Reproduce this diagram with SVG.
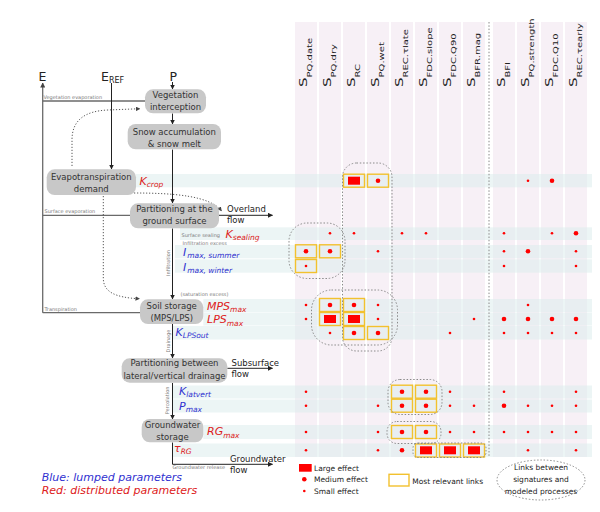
<svg xmlns="http://www.w3.org/2000/svg" width="600" height="512" viewBox="0 0 600 512">
<defs>
<marker id="ah" viewBox="0 0 10 10" refX="9" refY="5" markerWidth="5" markerHeight="5" orient="auto" markerUnits="userSpaceOnUse"><path d="M0,0 L10,5 L0,10 z" fill="#222"/></marker>
<marker id="ahd" viewBox="0 0 10 10" refX="9" refY="5" markerWidth="4.5" markerHeight="4.5" orient="auto" markerUnits="userSpaceOnUse"><path d="M0,0 L10,5 L0,10 z" fill="#444"/></marker>
<marker id="ahg" viewBox="0 0 10 10" refX="9" refY="5" markerWidth="5" markerHeight="5" orient="auto" markerUnits="userSpaceOnUse"><path d="M0,0 L10,5 L0,10 z" fill="#444"/></marker>
</defs>
<style>
text{font-family:"DejaVu Sans","Liberation Sans",sans-serif;}
.col{fill:#f7f0f6;}
.row{fill:#dcecec;fill-opacity:0.55;}
.hdr{font-size:15px;fill:#222;}
.hs{font-size:10px;}
.box{fill:#c8c8c8;stroke:none;}
.bt{font-size:8.5px;fill:#333;text-anchor:middle;}
.lbl{font-size:8.5px;fill:#222;}
.big{font-size:12.5px;fill:#222;}
.gl{font-size:5px;fill:#7a7a7a;}
.pb{font-size:11px;fill:#3030d0;font-style:italic;}
.pr{font-size:11px;fill:#dd2020;font-style:italic;}
.ps{font-size:7.5px;}
.flow{stroke:#222;stroke-width:1;fill:none;}
.evap{stroke:#6a6a6a;stroke-width:1.3;fill:none;}
.dot{stroke:#444;stroke-width:0.9;stroke-dasharray:1.2,1.8;fill:none;}
.grp{stroke:#8a8a8a;stroke-width:1;stroke-dasharray:1.5,1.8;fill:none;}
.yb{fill:none;stroke:#f2c12e;stroke-width:1.4;}
.L{fill:#ff0000;}
.M{fill:#ff0000;}
.S{fill:#ff0000;}
.leg{font-size:7.5px;fill:#222;}
</style>

<g id="columns">
<rect class="col" x="295" y="22" width="22" height="435"/>
<rect class="col" x="319" y="22" width="22" height="435"/>
<rect class="col" x="343" y="22" width="22" height="435"/>
<rect class="col" x="367" y="22" width="22" height="435"/>
<rect class="col" x="391" y="22" width="22" height="435"/>
<rect class="col" x="415" y="22" width="22" height="435"/>
<rect class="col" x="439" y="22" width="22" height="435"/>
<rect class="col" x="463" y="22" width="22" height="435"/>
<rect class="col" x="493" y="22" width="22" height="435"/>
<rect class="col" x="517" y="22" width="22" height="435"/>
<rect class="col" x="541" y="22" width="22" height="435"/>
<rect class="col" x="565" y="22" width="22" height="435"/>
</g>

<g id="rows">
<rect class="row" x="136" y="174" width="456" height="13.3"/>
<rect class="row" x="180" y="227.3" width="412" height="12.7"/>
<rect class="row" x="175" y="245" width="417" height="13.3"/>
<rect class="row" x="175" y="259.3" width="417" height="13.4"/>
<rect class="row" x="203.3" y="299" width="388.7" height="13"/>
<rect class="row" x="203.3" y="312.5" width="388.7" height="13"/>
<rect class="row" x="172.7" y="326" width="419.3" height="13.5"/>
<rect class="row" x="172.7" y="385.5" width="419.3" height="13"/>
<rect class="row" x="172.7" y="399.5" width="419.3" height="13"/>
<rect class="row" x="203.3" y="425" width="388.7" height="14"/>
<rect class="row" x="172.7" y="443.5" width="419.3" height="13.5"/>
</g>

<g id="headers">
<text class="hdr" transform="translate(307,87) rotate(-90) scale(1,0.66)">S<tspan class="hs" dy="7.6">PQ.date</tspan></text>
<text class="hdr" transform="translate(331,87) rotate(-90) scale(1,0.66)">S<tspan class="hs" dy="7.6">PQ.dry</tspan></text>
<text class="hdr" transform="translate(355,87) rotate(-90) scale(1,0.66)">S<tspan class="hs" dy="7.6">RC</tspan></text>
<text class="hdr" transform="translate(379,87) rotate(-90) scale(1,0.66)">S<tspan class="hs" dy="7.6">PQ.wet</tspan></text>
<text class="hdr" transform="translate(403,87) rotate(-90) scale(1,0.66)">S<tspan class="hs" dy="7.6">REC.τlate</tspan></text>
<text class="hdr" transform="translate(427,87) rotate(-90) scale(1,0.66)">S<tspan class="hs" dy="7.6">FDC.slope</tspan></text>
<text class="hdr" transform="translate(451,87) rotate(-90) scale(1,0.66)">S<tspan class="hs" dy="7.6">FDC.Q90</tspan></text>
<text class="hdr" transform="translate(475,87) rotate(-90) scale(1,0.66)">S<tspan class="hs" dy="7.6">BFR.mag</tspan></text>
<text class="hdr" transform="translate(505,87) rotate(-90) scale(1,0.66)">S<tspan class="hs" dy="7.6">BFI</tspan></text>
<text class="hdr" transform="translate(529,87) rotate(-90) scale(1,0.66)">S<tspan class="hs" dy="7.6">PQ.strength</tspan></text>
<text class="hdr" transform="translate(553,87) rotate(-90) scale(1,0.66)">S<tspan class="hs" dy="7.6">FDC.Q10</tspan></text>
<text class="hdr" transform="translate(577,87) rotate(-90) scale(1,0.66)">S<tspan class="hs" dy="7.6">REC.τearly</tspan></text>
</g>

<line x1="489" y1="22" x2="489" y2="457" stroke="#8a8a8a" stroke-width="1" stroke-dasharray="1.5,1.8"/>

<g id="relevant-links">
<rect class="yb" x="343.5" y="174.2" width="21" height="13"/>
<rect class="yb" x="367.5" y="174.2" width="21" height="13"/>
<rect class="yb" x="295.5" y="244.8" width="21" height="13"/>
<rect class="yb" x="319.5" y="244.8" width="21" height="13"/>
<rect class="yb" x="295.5" y="259.5" width="21" height="13"/>
<rect class="yb" x="319.5" y="298.5" width="21" height="13"/>
<rect class="yb" x="343.5" y="298.5" width="21" height="13"/>
<rect class="yb" x="319.5" y="312.5" width="21" height="13"/>
<rect class="yb" x="343.5" y="312.5" width="21" height="13"/>
<rect class="yb" x="343.5" y="326.5" width="21" height="13"/>
<rect class="yb" x="367.5" y="326.5" width="21" height="13"/>
<rect class="yb" x="391.5" y="385.2" width="21" height="13"/>
<rect class="yb" x="415.5" y="385.2" width="21" height="13"/>
<rect class="yb" x="391.5" y="399.2" width="21" height="13"/>
<rect class="yb" x="415.5" y="399.2" width="21" height="13"/>
<rect class="yb" x="391.5" y="425.5" width="21" height="13"/>
<rect class="yb" x="415.5" y="425.5" width="21" height="13"/>
<rect class="yb" x="415.5" y="444" width="21" height="13"/>
<rect class="yb" x="439.5" y="444" width="21" height="13"/>
<rect class="yb" x="463.5" y="444" width="21" height="13"/>
</g>

<g id="effects">
<rect class="L" x="348" y="176.7" width="12" height="8"/>
<circle class="M" cx="378" cy="180.7" r="2.3"/>
<circle class="S" cx="528" cy="180.7" r="1.3"/>
<circle class="M" cx="552" cy="180.7" r="2.3"/>
<circle class="S" cx="330" cy="233.3" r="1.3"/>
<circle class="S" cx="354" cy="233.3" r="1.3"/>
<circle class="S" cx="402" cy="233.3" r="1.3"/>
<circle class="S" cx="426" cy="233.3" r="1.3"/>
<circle class="S" cx="504" cy="233.3" r="1.3"/>
<circle class="S" cx="552" cy="233.3" r="1.3"/>
<circle class="M" cx="576" cy="233.3" r="2.3"/>
<circle class="M" cx="306" cy="251.3" r="2.3"/>
<circle class="M" cx="330" cy="251.3" r="2.3"/>
<circle class="S" cx="378" cy="251.3" r="1.3"/>
<circle class="S" cx="504" cy="251.3" r="1.3"/>
<circle class="M" cx="528" cy="251.3" r="2.3"/>
<circle class="S" cx="576" cy="251.3" r="1.3"/>
<circle class="S" cx="306" cy="266" r="1.3"/>
<circle class="S" cx="504" cy="266" r="1.3"/>
<circle class="S" cx="576" cy="266" r="1.3"/>
<circle class="S" cx="306" cy="305" r="1.3"/>
<circle class="M" cx="330" cy="305" r="2.3"/>
<circle class="M" cx="354" cy="305" r="2.3"/>
<circle class="S" cx="378" cy="305" r="1.3"/>
<circle class="S" cx="528" cy="305" r="1.3"/>
<circle class="S" cx="306" cy="319" r="1.3"/>
<rect class="L" x="324" y="315" width="12" height="8"/>
<rect class="L" x="348" y="315" width="12" height="8"/>
<circle class="S" cx="378" cy="319" r="1.3"/>
<circle class="S" cx="474" cy="319" r="1.3"/>
<circle class="M" cx="504" cy="319" r="2.3"/>
<circle class="M" cx="528" cy="319" r="2.3"/>
<circle class="M" cx="552" cy="319" r="2.3"/>
<circle class="M" cx="576" cy="319" r="2.3"/>
<circle class="S" cx="330" cy="333" r="1.3"/>
<circle class="M" cx="354" cy="333" r="2.3"/>
<circle class="M" cx="378" cy="333" r="2.3"/>
<circle class="S" cx="450" cy="333" r="1.3"/>
<circle class="S" cx="504" cy="333" r="1.3"/>
<circle class="S" cx="528" cy="333" r="1.3"/>
<circle class="S" cx="552" cy="333" r="1.3"/>
<circle class="S" cx="576" cy="333" r="1.3"/>
<circle class="S" cx="306" cy="391.7" r="1.3"/>
<circle class="M" cx="402" cy="391.7" r="2.3"/>
<circle class="M" cx="426" cy="391.7" r="2.3"/>
<circle class="S" cx="450" cy="391.7" r="1.3"/>
<circle class="S" cx="504" cy="391.7" r="1.3"/>
<circle class="S" cx="576" cy="391.7" r="1.3"/>
<circle class="S" cx="306" cy="405.7" r="1.3"/>
<circle class="S" cx="378" cy="405.7" r="1.3"/>
<circle class="M" cx="402" cy="405.7" r="2.3"/>
<circle class="M" cx="426" cy="405.7" r="2.3"/>
<circle class="S" cx="450" cy="405.7" r="1.3"/>
<circle class="S" cx="474" cy="405.7" r="1.3"/>
<circle class="M" cx="504" cy="405.7" r="2.3"/>
<circle class="S" cx="528" cy="405.7" r="1.3"/>
<circle class="S" cx="552" cy="405.7" r="1.3"/>
<circle class="S" cx="576" cy="405.7" r="1.3"/>
<circle class="S" cx="306" cy="432" r="1.3"/>
<circle class="S" cx="378" cy="432" r="1.3"/>
<circle class="M" cx="402" cy="432" r="2.3"/>
<circle class="M" cx="426" cy="432" r="2.3"/>
<circle class="S" cx="450" cy="432" r="1.3"/>
<circle class="S" cx="474" cy="432" r="1.3"/>
<circle class="S" cx="504" cy="432" r="1.3"/>
<circle class="S" cx="528" cy="432" r="1.3"/>
<circle class="S" cx="552" cy="432" r="1.3"/>
<circle class="S" cx="576" cy="432" r="1.3"/>
<circle class="S" cx="306" cy="450.3" r="1.3"/>
<circle class="S" cx="378" cy="450.3" r="1.3"/>
<circle class="M" cx="402" cy="450.3" r="2.3"/>
<rect class="L" x="420" y="446.3" width="12" height="8"/>
<rect class="L" x="444" y="446.3" width="12" height="8"/>
<rect class="L" x="468" y="446.3" width="12" height="8"/>
<circle class="S" cx="528" cy="450.3" r="1.3"/>
<circle class="S" cx="576" cy="450.3" r="1.3"/>
</g>

<g id="link-groups">
<rect class="grp" x="342.5" y="163" width="49.5" height="188" rx="14"/>
<rect class="grp" x="289" y="223" width="56" height="55.5" rx="18"/>
<rect class="grp" x="311.5" y="290" width="86" height="55" rx="20"/>
<rect class="grp" x="388" y="379.5" width="54" height="35" rx="12"/>
<rect class="grp" x="387" y="421.5" width="54" height="22" rx="10"/>
<rect class="grp" x="413" y="443" width="73" height="14.5" rx="5"/>
</g>

<g id="connectors">
<line class="evap" x1="42.7" y1="312.7" x2="42.7" y2="83" marker-end="url(#ahg)"/>
<line class="evap" x1="145" y1="101" x2="42.7" y2="101"/>
<line class="evap" x1="130" y1="215.3" x2="42.7" y2="215.3"/>
<line class="evap" x1="140" y1="312.7" x2="42.7" y2="312.7"/>
<line class="flow" x1="172.5" y1="82" x2="172.5" y2="89" marker-end="url(#ah)"/>
<line class="flow" x1="111.5" y1="83" x2="111.5" y2="169" marker-end="url(#ah)"/>
<line class="flow" x1="172.5" y1="113.5" x2="172.5" y2="124" marker-end="url(#ah)"/>
<line class="flow" x1="172.5" y1="149.5" x2="172.5" y2="203" marker-end="url(#ah)"/>
<line class="flow" x1="172.5" y1="228.5" x2="172.5" y2="299" marker-end="url(#ah)"/>
<line class="flow" x1="172.5" y1="324" x2="172.5" y2="358" marker-end="url(#ah)"/>
<line class="flow" x1="172.5" y1="383" x2="172.5" y2="419" marker-end="url(#ah)"/>
<polyline class="flow" points="172.5,442.5 172.5,464.3 272.5,464.3" marker-end="url(#ah)"/>
<line class="flow" x1="219" y1="215.3" x2="272.5" y2="215.3" marker-end="url(#ah)"/>
<line class="flow" x1="227.3" y1="368.3" x2="272.5" y2="368.3" marker-end="url(#ah)"/>
<path class="dot" d="M72,166 L72,140 C72,120 85,111 108,110 L140,108.7" marker-end="url(#ahd)"/>
<path class="dot" d="M134,193 C175,193 210,196 221.5,211" marker-end="url(#ahd)"/>
<path class="dot" d="M103.3,196 L103.3,278 C103.3,292 115,297.5 139.5,298.8" marker-end="url(#ahd)"/>
</g>

<g id="labels-top">
<text class="big" x="38.5" y="80.5">E</text>
<text class="big" x="101" y="80.5">E<tspan font-size="8" dy="2.5">REF</tspan></text>
<text class="big" x="169.5" y="80.5">P</text>
</g>

<g id="node-vegetation">
<rect class="box" x="145" y="89.3" width="61" height="24" rx="8"/>
<text class="bt" x="175.5" y="97.8">Vegetation</text>
<text class="bt" x="175.5" y="109.5">interception</text>
</g>
<g id="node-snow">
<rect class="box" x="127.7" y="124" width="93.3" height="25.3" rx="8"/>
<text class="bt" x="174.3" y="134.8">Snow accumulation</text>
<text class="bt" x="174.3" y="146.8">&amp; snow melt</text>
</g>
<g id="node-evapotranspiration">
<rect class="box" x="46.7" y="169.3" width="89.3" height="25.7" rx="8"/>
<text class="bt" x="91.3" y="180">Evapotranspiration</text>
<text class="bt" x="91.3" y="192">demand</text>
</g>
<g id="node-partitioning-surface">
<rect class="box" x="130" y="203.3" width="89" height="25" rx="8"/>
<text class="bt" x="174.5" y="211.8">Partitioning at the</text>
<text class="bt" x="174.5" y="224">ground surface</text>
</g>
<g id="node-soil">
<rect class="box" x="140" y="299.3" width="63.3" height="24.7" rx="8"/>
<text class="bt" x="171.7" y="308.5">Soil storage</text>
<text class="bt" x="171.7" y="320.5">(MPS/LPS)</text>
</g>
<g id="node-partitioning-drainage">
<rect class="box" x="121.7" y="358.3" width="105.6" height="24.4" rx="8"/>
<text class="bt" x="174.5" y="366.3">Partitioning between</text>
<text class="bt" x="174.5" y="378.5">lateral/vertical drainage</text>
</g>
<g id="node-groundwater">
<rect class="box" x="141.7" y="419" width="61.6" height="23.3" rx="8"/>
<text class="bt" x="172.5" y="428">Groundwater</text>
<text class="bt" x="172.5" y="440">storage</text>
</g>

<g id="flow-labels">
<text class="lbl" x="227" y="211.5">Overland</text>
<text class="lbl" x="227" y="223">flow</text>
<text class="lbl" x="231.5" y="365.8">Subsurface</text>
<text class="lbl" x="231.5" y="377.3">flow</text>
<text class="lbl" x="230" y="461.5">Groundwater</text>
<text class="lbl" x="230" y="473.3">flow</text>
</g>

<g id="small-labels">
<text class="gl" x="43.5" y="99">Vegetation evaporation</text>
<text class="gl" x="44.5" y="213.3">Surface evaporation</text>
<text class="gl" x="44.5" y="310.8">Transpiration</text>
<text class="gl" x="181.5" y="236.5">Surface sealing</text>
<text class="gl" x="182.5" y="245">Infiltration excess</text>
<text class="gl" x="180.5" y="296">(saturation excess)</text>
<text class="gl" x="172.5" y="469.3">Groundwater release</text>
<text class="gl" transform="translate(170.3,263) rotate(-90)" text-anchor="middle">Infiltration</text>
<text class="gl" transform="translate(169.6,341) rotate(-90)" text-anchor="middle">Drainage</text>
<text class="gl" transform="translate(168.6,400.5) rotate(-90)" text-anchor="middle">Percolation</text>
</g>

<g id="parameters">
<text class="pr" x="139.5" y="184.5">K<tspan class="ps" dy="2">crop</tspan></text>
<text class="pr" x="225.5" y="237.5">K<tspan class="ps" dy="2">sealing</tspan></text>
<text class="pb" x="183" y="255.5" font-size="12">I<tspan class="ps" dx="1" dy="2" font-size="7">max, summer</tspan></text>
<text class="pb" x="183" y="270.5" font-size="12">I<tspan class="ps" dx="1" dy="2" font-size="7">max, winter</tspan></text>
<text class="pr" x="207" y="309.5">MPS<tspan class="ps" dy="2.5">max</tspan></text>
<text class="pr" x="207" y="323">LPS<tspan class="ps" dy="2.5">max</tspan></text>
<text class="pb" x="175.5" y="335.5">K<tspan class="ps" dy="2" font-size="6.5">LPSout</tspan></text>
<text class="pb" x="179" y="395">K<tspan class="ps" dy="2" font-size="6.5">latvert</tspan></text>
<text class="pb" x="179" y="409.5">P<tspan class="ps" dy="2">max</tspan></text>
<text class="pr" x="207" y="435">RG<tspan class="ps" dy="2.5">max</tspan></text>
<text class="pr" x="174" y="452">τ<tspan class="ps" dy="2" font-size="6.5">RG</tspan></text>
</g>

<g id="legend">
<text class="pb" x="41.7" y="480.5" font-size="8.2">Blue: lumped parameters</text>
<text class="pr" x="41.7" y="493.5" font-size="8.2">Red: distributed parameters</text>
<rect class="L" x="299" y="464" width="12.7" height="7.7"/>
<text class="leg" x="314" y="470.5">Large effect</text>
<circle class="M" cx="304.3" cy="479.3" r="2.3"/>
<text class="leg" x="314" y="482.3">Medium effect</text>
<circle class="S" cx="304.3" cy="491" r="1.3"/>
<text class="leg" x="314" y="494">Small effect</text>
<rect class="yb" x="389" y="474.3" width="20" height="11.7"/>
<text class="leg" x="412.3" y="483.5">Most relevant links</text>
<ellipse class="grp" cx="541" cy="480" rx="44" ry="20"/>
<text class="leg" x="541" y="470" text-anchor="middle">Links between</text>
<text class="leg" x="541" y="482" text-anchor="middle">signatures and</text>
<text class="leg" x="541" y="494.3" text-anchor="middle">modeled processes</text>
</g>
</svg>
